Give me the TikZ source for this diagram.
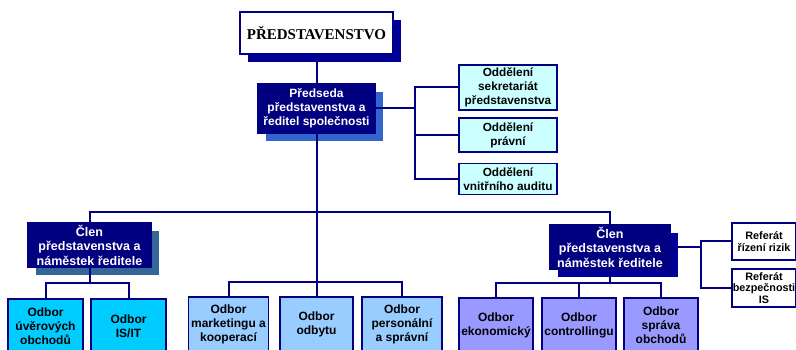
\documentclass[tikz,border=0pt]{standalone}
\usepackage{fontspec}
\setmainfont{Liberation Sans}
\newfontfamily\titlefont{Liberation Serif}
\usetikzlibrary{shadows}
\definecolor{navy}{HTML}{000080}
\definecolor{shblue}{HTML}{000099}
\definecolor{shroyal}{HTML}{3366CC}
\definecolor{shsteel}{HTML}{336699}
\definecolor{lcyan}{HTML}{CCFFFF}
\definecolor{cyanbox}{HTML}{00CCFF}
\definecolor{skybox}{HTML}{99CCFF}
\definecolor{lavbox}{HTML}{9999FF}
\tikzset{
  box/.style={draw=navy, line width=1.4pt, inner sep=0pt, align=center,
    font=\bfseries\fontsize{12}{14}\selectfont},
  dark/.style={box, fill=navy, text=white},
  shad/.style={general shadow={fill=#1, shadow xshift=8pt, shadow yshift=-8pt}},
  side/.style={box, fill=lcyan, minimum width=98pt, font=\bfseries\fontsize{11.8}{14}\selectfont},
  ref/.style={box, fill=white, minimum width=64pt, font=\bfseries\fontsize{10.8}{11.5}\selectfont},
  unit/.style={box, minimum height=54pt},
  conn/.style={draw=navy, line width=2pt}
}
\begin{document}
\begin{tikzpicture}[x=1pt,y=-1pt]
\clip (0,0) rectangle (796,350);
\fill[white] (0,0) rectangle (796,350);

% top
\node[box, fill=white, shad=shblue, minimum width=153pt, minimum height=42pt,
  font=\titlefont\bfseries\fontsize{15}{17}\selectfont] (pr) at (316.5,33) {PŘEDSTAVENSTVO};
\node[dark, shad=shroyal, minimum width=117pt, minimum height=49pt] (pd) at (316.5,108.5)
  {Předseda\\představenstva a\\ředitel společnosti};

% staff departments
\node[side, minimum height=45pt] (o1) at (508,87.5) {Oddělení\\sekretariát\\představenstva};
\node[side, minimum height=34pt] (o2) at (508,135) {Oddělení\\právní};
\node[side, minimum height=31pt] (o3) at (508,179) {Oddělení\\vnitřního auditu};

% board members
\node[dark, shad=shsteel, minimum width=123pt, minimum height=44pt,
  font=\bfseries\fontsize{12.5}{14.5}\selectfont] (c1) at (89.5,245)
  {Člen\\představenstva a\\náměstek ředitele};
\node[dark, shad=shblue, minimum width=120pt, minimum height=44pt,
  font=\bfseries\fontsize{12.5}{14.5}\selectfont] (c2) at (610,247)
  {Člen\\představenstva a\\náměstek ředitele};

% referáty
\node[ref, minimum height=37pt] (r1) at (764,241.5) {Referát\\řízení rizik};
\node[ref, minimum height=38pt] (r2) at (764,288) {Referát\\bezpečnosti\\IS};

% units
\node[unit, fill=cyanbox, minimum width=75pt] (b1) at (45.5,326) {Odbor\\úvěrových\\obchodů};
\node[unit, fill=cyanbox, minimum width=75pt] (b2) at (128.5,326) {Odbor\\IS/IT};
\node[unit, fill=skybox, minimum width=80pt] (m1) at (228.5,324) {Odbor\\marketingu a\\kooperací};
\node[unit, fill=skybox, minimum width=73pt] (m2) at (316.5,324) {Odbor\\odbytu};
\node[unit, fill=skybox, minimum width=80pt] (m3) at (402,324) {Odbor\\personální\\a správní};
\node[unit, fill=lavbox, minimum width=74pt] (e1) at (496,325) {Odbor\\ekonomický};
\node[unit, fill=lavbox, minimum width=74pt] (e2) at (579,325) {Odbor\\controllingu};
\node[unit, fill=lavbox, minimum width=74pt] (e3) at (661,325) {Odbor\\správa\\obchodů};

% bus coordinates
\coordinate (bus) at (316.5,212);
\coordinate (ov) at (415,108.5);
\coordinate (mb) at (316.5,282);
\coordinate (lb) at (89.5,283);
\coordinate (rb) at (610,283);
\coordinate (rv) at (701,247);

% connectors
\draw[conn] (pr.south) -- (pd.north);
\draw[conn] (pd.south) -- (m2.north);
\draw[conn] (pd.east) -- (ov);
\draw[conn] (o1.west) -- (o1.west -| ov) -- (o3.west -| ov) -- (o3.west);
\draw[conn] (o2.west) -- (o2.west -| ov);
\draw[conn] (c1.north) -- (c1.north |- bus) -- (c2.north |- bus) -- (c2.north);
\draw[conn] (m1.north) -- (m1.north |- mb) -- (m3.north |- mb) -- (m3.north);
\draw[conn] (c1.south) -- (lb);
\draw[conn] (b1.north) -- (b1.north |- lb) -- (b2.north |- lb) -- (b2.north);
\draw[conn] (c2.south) -- (rb);
\draw[conn] (e1.north) -- (e1.north |- rb) -- (e3.north |- rb) -- (e3.north);
\draw[conn] (e2.north) -- (e2.north |- rb);
\draw[conn] (c2.east) -- (rv);
\draw[conn] (r1.west) -- (r1.west -| rv) -- (r2.west -| rv) -- (r2.west);
\end{tikzpicture}
\end{document}
